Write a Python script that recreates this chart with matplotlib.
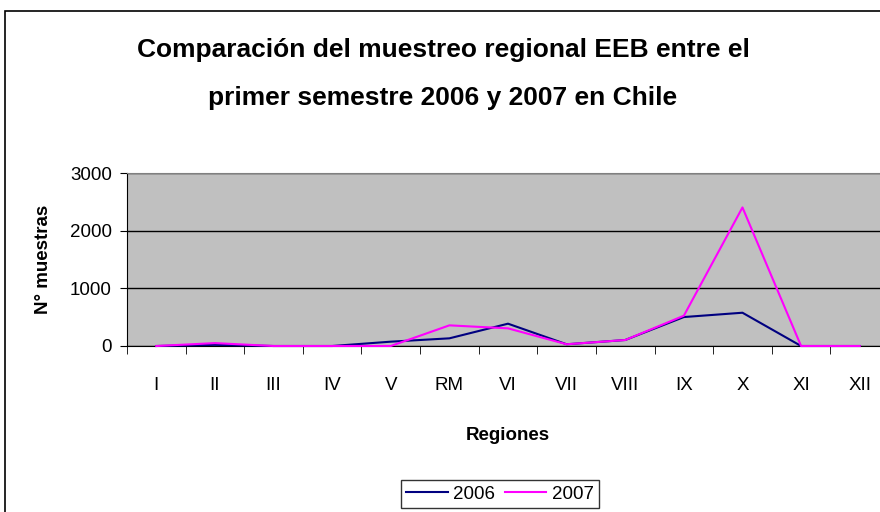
import matplotlib
matplotlib.use("Agg")
import matplotlib.pyplot as plt
from matplotlib.patches import Rectangle
from matplotlib import font_manager

names = {f.name for f in font_manager.fontManager.ttflist}
FONT = "Liberation Sans Narrow" if "Liberation Sans Narrow" in names else "Liberation Sans"
plt.rcParams['font.family'] = [FONT, 'DejaVu Sans']

regions = ["I", "II", "III", "IV", "V", "RM", "VI", "VII", "VIII", "IX", "X", "XI", "XII"]
s2006 = [0, 20, 0, 0, 75, 133, 387, 30, 104, 502, 577, 0, 0]
s2007 = [0, 50, 0, 0, 0, 358, 306, 30, 104, 525, 2403, 0, 0]
yticks = [0, 1000, 2000, 3000]

fig = plt.figure(figsize=(8.8, 5.12), dpi=100)
fig.patches.append(Rectangle((5/880, -0.1), 1.2, 1 - 11/512 + 0.1, transform=fig.transFigure,
                             fill=False, edgecolor='black', linewidth=1.2))

ax = fig.add_axes([127/880, 1 - 346/512, 762/880, 173/512])
ax.set_facecolor('#C0C0C0')
x = list(range(len(regions)))
ax.plot(x, s2006, color='#000080', lw=1.5, label='2006', zorder=3, clip_on=False)
ax.plot(x, s2007, color='#FF00FF', lw=1.5, label='2007', zorder=3, clip_on=False)
ax.set_xlim(-0.5, len(regions) - 0.5)
ax.set_ylim(0, 3000)
ax.set_yticks(yticks)
ax.set_yticklabels([str(v) for v in yticks], fontsize=13.5)
ax.set_xticks(x)
ax.set_xticklabels(regions, fontsize=13.5)
ax.set_xticks([i - 0.5 for i in range(len(regions) + 1)], minor=True)
ax.tick_params(axis='x', which='major', length=0, pad=22)
ax.tick_params(axis='x', which='minor', length=6, direction='out', color='black')
ax.tick_params(axis='y', length=5, direction='out', pad=6)
ax.yaxis.grid(True, color='black', lw=1)
ax.set_axisbelow(True)
for s in ['top', 'right']:
    ax.spines[s].set_color('#808080')
ax.spines['left'].set_color('black')
ax.spines['bottom'].set_color('black')

ax.set_xlabel('Regiones', fontsize=13.5, fontweight='bold', labelpad=24)
ax.set_ylabel('N° muestras', fontsize=13.5, fontweight='bold', labelpad=13)

fig.text(443/880, 1 - 50/512, 'Comparación del muestreo regional EEB entre el',
         ha='center', va='center', fontsize=19, fontweight='bold')
fig.text(443/880, 1 - 98/512, 'primer semestre 2006 y 2007 en Chile',
         ha='center', va='center', fontsize=19, fontweight='bold')

leg = fig.legend(loc='center', bbox_to_anchor=(500/880, 1 - 494/512), ncol=2, fontsize=13.5,
                 frameon=True, fancybox=False, edgecolor='black', handlelength=2.2,
                 columnspacing=0.5, handletextpad=0.3, borderpad=0.3)
leg.get_frame().set_linewidth(1)

fig.savefig('out.png', dpi=100)
